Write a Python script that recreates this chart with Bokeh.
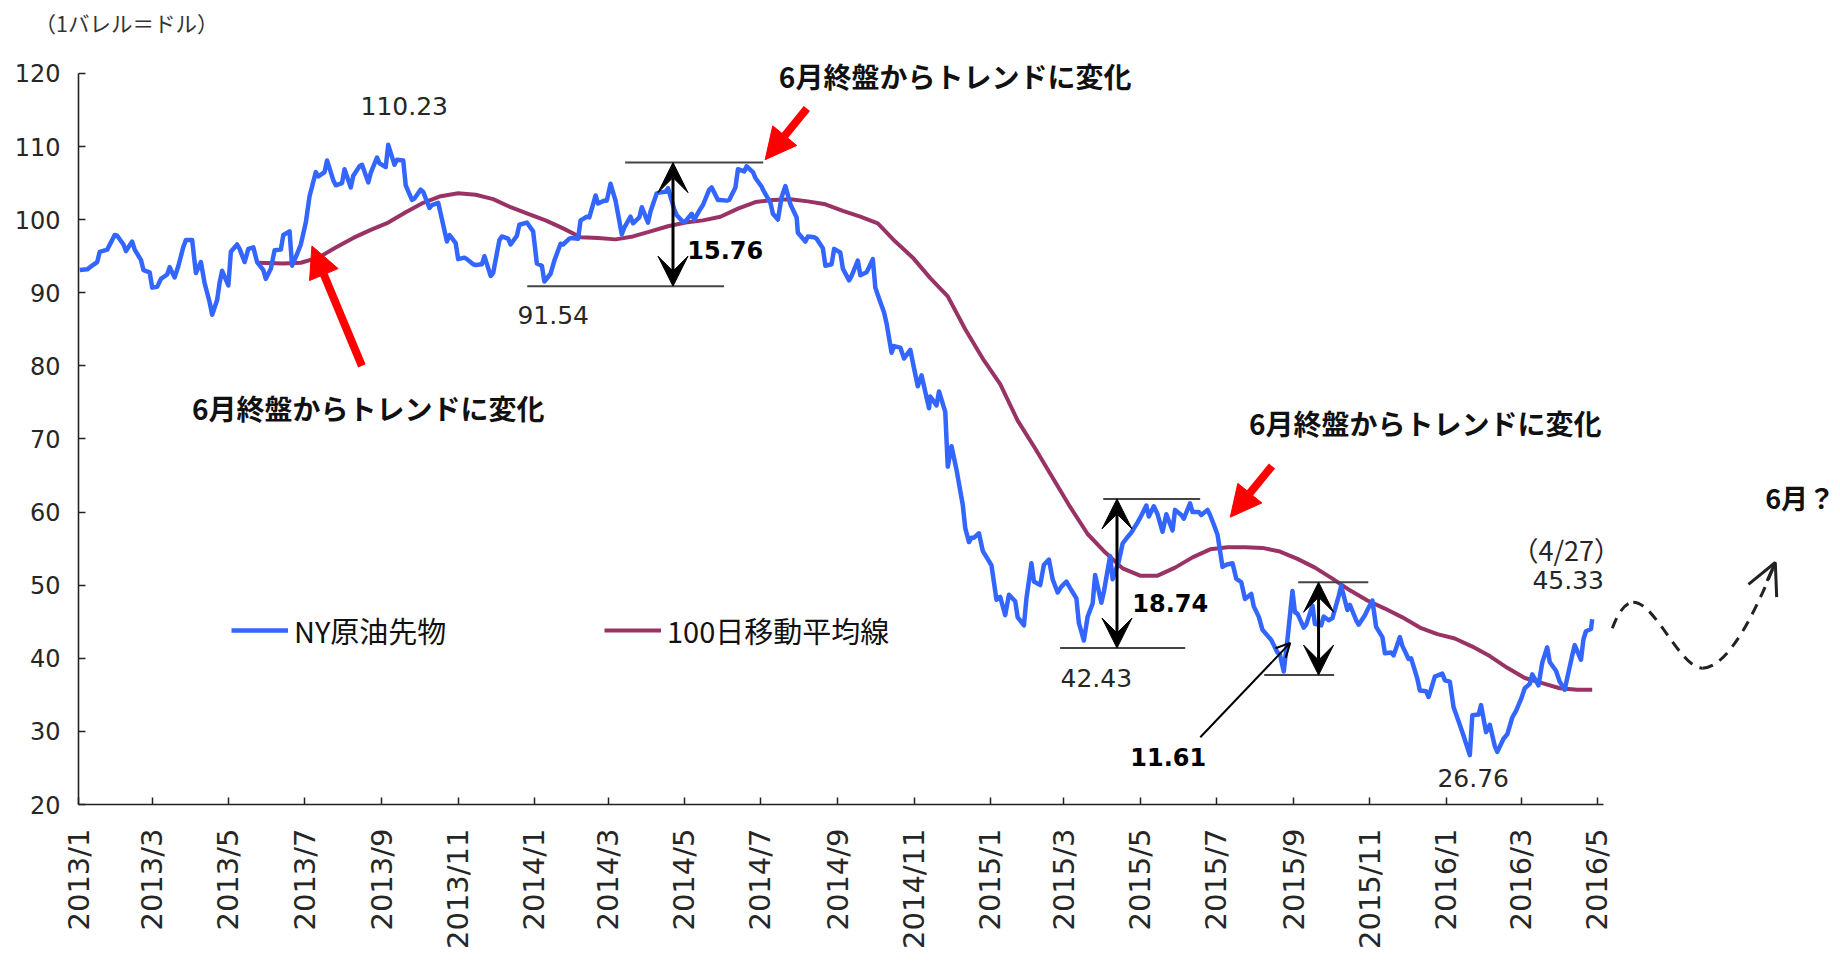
import math
import pandas as pd
from bokeh.plotting import figure
from bokeh.models import (Range1d, FixedTicker, Arrow, NormalHead, VeeHead, OpenHead,
                          Legend, LegendItem, ColumnDataSource)
from bokeh.core.properties import value
from bokeh.embed import file_html
from bokeh.resources import INLINE

# ---------------- data ----------------
wti_dates = [
    "2013-01-02", "2013-01-08", "2013-01-11", "2013-01-16", "2013-01-18", "2013-01-24", "2013-01-30",
    "2013-02-01", "2013-02-06", "2013-02-08", "2013-02-13", "2013-02-15", "2013-02-20", "2013-02-22",
    "2013-02-27", "2013-03-01", "2013-03-05", "2013-03-08", "2013-03-13", "2013-03-15", "2013-03-19",
    "2013-03-22", "2013-03-26", "2013-03-28", "2013-04-02", "2013-04-05", "2013-04-09", "2013-04-12",
    "2013-04-16", "2013-04-18", "2013-04-22", "2013-04-24", "2013-04-26", "2013-05-01", "2013-05-03",
    "2013-05-08", "2013-05-10", "2013-05-14", "2013-05-17", "2013-05-21", "2013-05-24", "2013-05-29",
    "2013-05-31", "2013-06-04", "2013-06-07", "2013-06-12", "2013-06-14", "2013-06-19", "2013-06-21",
    "2013-06-25", "2013-06-28", "2013-07-02", "2013-07-05", "2013-07-10", "2013-07-12", "2013-07-17",
    "2013-07-19", "2013-07-24", "2013-07-26", "2013-07-31", "2013-08-02", "2013-08-07", "2013-08-09",
    "2013-08-14", "2013-08-16", "2013-08-21", "2013-08-23", "2013-08-28", "2013-08-30", "2013-09-04",
    "2013-09-06", "2013-09-11", "2013-09-13", "2013-09-18", "2013-09-20", "2013-09-25", "2013-09-27",
    "2013-10-02", "2013-10-04", "2013-10-09", "2013-10-11", "2013-10-16", "2013-10-18", "2013-10-23",
    "2013-10-25", "2013-10-30", "2013-11-01", "2013-11-06", "2013-11-08", "2013-11-13", "2013-11-15",
    "2013-11-20", "2013-11-22", "2013-11-27", "2013-11-29", "2013-12-04", "2013-12-06", "2013-12-11",
    "2013-12-13", "2013-12-18", "2013-12-20", "2013-12-26", "2013-12-31",
    "2014-01-03", "2014-01-07", "2014-01-09", "2014-01-14", "2014-01-17", "2014-01-22", "2014-01-24",
    "2014-01-29", "2014-01-31", "2014-02-05", "2014-02-07", "2014-02-12", "2014-02-14", "2014-02-19",
    "2014-02-21", "2014-02-26", "2014-02-28", "2014-03-03", "2014-03-07", "2014-03-12", "2014-03-14",
    "2014-03-19", "2014-03-21", "2014-03-26", "2014-03-28", "2014-04-02", "2014-04-04", "2014-04-09",
    "2014-04-11", "2014-04-16", "2014-04-18", "2014-04-23", "2014-04-25", "2014-04-30", "2014-05-02",
    "2014-05-07", "2014-05-09", "2014-05-14", "2014-05-16", "2014-05-21", "2014-05-23", "2014-05-28",
    "2014-05-30", "2014-06-04", "2014-06-06", "2014-06-11", "2014-06-13", "2014-06-18", "2014-06-20",
    "2014-06-25", "2014-06-27", "2014-07-02", "2014-07-03", "2014-07-09", "2014-07-11", "2014-07-15",
    "2014-07-18", "2014-07-21", "2014-07-25", "2014-07-30", "2014-07-31", "2014-08-06", "2014-08-08",
    "2014-08-13", "2014-08-15", "2014-08-20", "2014-08-22", "2014-08-27", "2014-08-29", "2014-09-03",
    "2014-09-05", "2014-09-10", "2014-09-12", "2014-09-17", "2014-09-19", "2014-09-24", "2014-09-26",
    "2014-09-29", "2014-10-01", "2014-10-03", "2014-10-08", "2014-10-10", "2014-10-14", "2014-10-16",
    "2014-10-21", "2014-10-24", "2014-10-29", "2014-10-31", "2014-11-04", "2014-11-07", "2014-11-13",
    "2014-11-14", "2014-11-19", "2014-11-21", "2014-11-26", "2014-11-28", "2014-12-01", "2014-12-05",
    "2014-12-10", "2014-12-12", "2014-12-15", "2014-12-17", "2014-12-19", "2014-12-23", "2014-12-26",
    "2014-12-31",
    "2015-01-02", "2015-01-06", "2015-01-09", "2015-01-13", "2015-01-16", "2015-01-21", "2015-01-23",
    "2015-01-28", "2015-01-30", "2015-02-03", "2015-02-05", "2015-02-10", "2015-02-13", "2015-02-17",
    "2015-02-20", "2015-02-24", "2015-02-27", "2015-03-03", "2015-03-06", "2015-03-11", "2015-03-13",
    "2015-03-17", "2015-03-20", "2015-03-24", "2015-03-26", "2015-03-31", "2015-04-02", "2015-04-07",
    "2015-04-09", "2015-04-14", "2015-04-17", "2015-04-21", "2015-04-24", "2015-04-29", "2015-05-01",
    "2015-05-06", "2015-05-08", "2015-05-12", "2015-05-15", "2015-05-19", "2015-05-22", "2015-05-27",
    "2015-05-29", "2015-06-03", "2015-06-05", "2015-06-10", "2015-06-12", "2015-06-17", "2015-06-19",
    "2015-06-24", "2015-06-26", "2015-06-29", "2015-07-02", "2015-07-06", "2015-07-09", "2015-07-14",
    "2015-07-17", "2015-07-21", "2015-07-24", "2015-07-29", "2015-07-31", "2015-08-04", "2015-08-07",
    "2015-08-11", "2015-08-14", "2015-08-19", "2015-08-21", "2015-08-24", "2015-08-27", "2015-08-31",
    "2015-09-02", "2015-09-04", "2015-09-09", "2015-09-11", "2015-09-16", "2015-09-18", "2015-09-23",
    "2015-09-25", "2015-09-29", "2015-10-02", "2015-10-07", "2015-10-09", "2015-10-14", "2015-10-16",
    "2015-10-21", "2015-10-23", "2015-10-28", "2015-10-30", "2015-11-03", "2015-11-06", "2015-11-11",
    "2015-11-13", "2015-11-18", "2015-11-20", "2015-11-25", "2015-11-27", "2015-12-02", "2015-12-04",
    "2015-12-09", "2015-12-11", "2015-12-16", "2015-12-18", "2015-12-23", "2015-12-29", "2015-12-31",
    "2016-01-04", "2016-01-07", "2016-01-11", "2016-01-13", "2016-01-15", "2016-01-20", "2016-01-22",
    "2016-01-27", "2016-01-29", "2016-02-02", "2016-02-05", "2016-02-09", "2016-02-11", "2016-02-16",
    "2016-02-19", "2016-02-23", "2016-02-26", "2016-03-01", "2016-03-04", "2016-03-08", "2016-03-10",
    "2016-03-15", "2016-03-18", "2016-03-22", "2016-03-24", "2016-03-29", "2016-04-01", "2016-04-05",
    "2016-04-07", "2016-04-11", "2016-04-13", "2016-04-18", "2016-04-20", "2016-04-22", "2016-04-26",
    "2016-04-27",
]
wti_values = [
    93.1, 93.2, 93.6, 94.2, 95.6, 95.9, 97.9,
    97.8, 96.6, 95.7, 97.0, 95.9, 94.5, 93.1,
    92.8, 90.7, 90.8, 91.9, 92.5, 93.5, 92.1,
    93.7, 96.3, 97.2, 97.2, 92.7, 94.2, 91.3,
    88.7, 87.0, 89.0, 91.4, 93.0, 91.0, 95.6,
    96.6, 96.0, 94.2, 96.0, 96.2, 94.2, 93.1,
    91.9, 93.3, 95.8, 95.9, 97.9, 98.4, 93.7,
    95.3, 96.6, 99.6, 103.2, 106.5, 105.9, 106.5,
    108.1, 105.4, 104.7, 105.0, 106.9, 104.4, 106.0,
    107.3, 107.5, 105.1, 106.4, 108.5, 107.7, 107.2,
    110.23, 107.5, 108.2, 108.1, 104.7, 102.7, 102.9,
    104.1, 103.8, 101.6, 102.0, 102.3, 100.8, 97.0,
    97.9, 96.8, 94.6, 94.8, 94.6, 93.9, 93.8,
    93.9, 95.0, 92.3, 92.7, 97.2, 97.7, 97.4,
    96.6, 97.8, 99.3, 99.6, 98.4,
    94.0, 93.7, 91.54, 92.6, 94.4, 96.7, 96.6,
    97.4, 97.5, 97.4, 99.9, 100.4, 100.3, 103.3,
    102.2, 102.6, 102.6, 104.9, 102.6, 98.0, 98.9,
    100.4, 99.5, 100.3, 101.7, 99.6, 101.1, 103.6,
    103.7, 103.8, 104.3, 101.4, 100.6, 99.7, 99.8,
    100.8, 100.0, 101.5, 102.0, 104.1, 104.4, 102.7,
    102.7, 102.6, 102.7, 104.4, 106.9, 106.6, 107.3,
    106.5, 105.7, 104.5, 104.1, 102.3, 100.8, 100.0,
    103.1, 104.6, 102.1, 100.3, 98.2, 97.0, 97.7,
    97.6, 97.4, 96.1, 93.7, 93.9, 96.0, 95.5,
    93.3, 91.7, 92.3, 94.4, 92.4, 92.8, 93.5,
    94.6, 90.7, 89.7, 87.3, 85.8, 81.8, 82.7,
    82.5, 81.0, 82.2, 80.5, 77.2, 78.7, 74.2,
    75.8, 74.6, 76.5, 73.7, 66.2, 69.0, 65.8,
    61.0, 57.8, 55.9, 56.5, 56.5, 57.1, 54.7,
    53.3,
    52.7, 48.0, 48.4, 45.9, 48.7, 47.8, 45.6,
    44.5, 48.2, 53.0, 50.5, 50.0, 52.8, 53.5,
    50.8, 49.0, 49.8, 50.5, 49.6, 48.2, 44.8,
    42.43, 45.7, 47.5, 51.4, 47.6, 49.1, 54.0,
    50.8, 53.3, 55.7, 56.6, 57.2, 58.6, 59.2,
    60.9, 59.4, 60.8, 59.7, 57.3, 59.7, 57.5,
    60.3, 59.6, 59.1, 61.2, 60.0, 60.0, 59.6,
    60.3, 59.6, 58.3, 56.9, 52.5, 52.8, 53.0,
    50.9, 50.4, 48.1, 48.8, 47.1, 45.7, 43.9,
    43.1, 42.5, 40.8, 40.5, 38.2, 42.6, 49.2,
    46.3, 46.1, 44.2, 44.6, 47.2, 44.7, 44.5,
    45.7, 45.2, 45.5, 48.5, 49.9, 46.6, 47.3,
    45.2, 44.6, 45.9, 46.6, 47.9, 44.3, 42.9,
    40.7, 40.8, 40.4, 42.9, 41.7, 39.9, 40.0,
    37.2, 35.6, 35.5, 34.7, 37.5, 37.9, 37.0,
    36.8, 33.3, 31.4, 30.4, 29.4, 26.76, 32.2,
    32.3, 33.6, 29.9, 30.9, 28.0, 27.2, 29.0,
    29.6, 31.9, 32.8, 34.4, 35.9, 36.5, 37.8,
    36.3, 39.4, 41.5, 39.5, 38.3, 36.8, 35.7,
    37.3, 40.4, 41.8, 39.8, 42.6, 43.7, 44.0,
    45.33,
]

ma_dates = [
    "2013-05-24", "2013-06-14", "2013-06-28", "2013-07-12", "2013-07-26", "2013-08-09", "2013-08-23",
    "2013-09-06", "2013-09-20", "2013-10-04", "2013-10-18", "2013-11-01", "2013-11-15", "2013-11-29",
    "2013-12-13", "2013-12-27", "2014-01-10", "2014-01-24", "2014-02-07", "2014-02-21", "2014-03-07",
    "2014-03-21", "2014-04-04", "2014-04-18", "2014-05-02", "2014-05-16", "2014-05-30", "2014-06-13",
    "2014-06-27", "2014-07-11", "2014-07-25", "2014-08-08", "2014-08-22", "2014-09-05", "2014-09-19",
    "2014-10-03", "2014-10-17", "2014-10-31", "2014-11-14", "2014-11-28", "2014-12-12", "2014-12-26",
    "2015-01-09", "2015-01-23", "2015-02-06", "2015-02-20", "2015-03-06", "2015-03-20", "2015-04-03",
    "2015-04-17", "2015-05-01", "2015-05-15", "2015-05-29", "2015-06-12", "2015-06-26", "2015-07-10",
    "2015-07-24", "2015-08-07", "2015-08-21", "2015-09-04", "2015-09-18", "2015-10-02", "2015-10-16",
    "2015-10-30", "2015-11-13", "2015-11-27", "2015-12-11", "2015-12-25", "2016-01-08", "2016-01-22",
    "2016-02-05", "2016-02-19", "2016-03-04", "2016-03-18", "2016-04-01", "2016-04-15", "2016-04-27",
]
ma_values = [
    94.1, 94.0, 94.1, 94.8, 96.2, 97.5, 98.6,
    99.6, 101.0, 102.3, 103.2, 103.6, 103.4, 102.8,
    101.7, 100.8, 99.9, 98.8, 97.6, 97.5, 97.3,
    97.7, 98.4, 99.1, 99.6, 99.9, 100.4, 101.5,
    102.4, 102.7, 102.8, 102.5, 102.1, 101.2, 100.4,
    99.5, 97.0, 94.8, 92.0, 89.5, 85.0, 81.0,
    77.5, 72.5, 68.7, 64.7, 60.7, 57.0, 54.5,
    52.3, 51.3, 51.3, 52.4, 53.8, 54.9, 55.2,
    55.2, 55.1, 54.6, 53.6, 52.4, 50.9, 49.3,
    47.9, 46.8, 45.6, 44.2, 43.3, 42.7, 41.6,
    40.3, 38.7, 37.3, 36.6, 35.9, 35.7, 35.7,
]

tick_dates = ["2013-01-01", "2013-03-01", "2013-05-01", "2013-07-01", "2013-09-01", "2013-11-01",
              "2014-01-01", "2014-03-01", "2014-05-01", "2014-07-01", "2014-09-01", "2014-11-01",
              "2015-01-01", "2015-03-01", "2015-05-01", "2015-07-01", "2015-09-01", "2015-11-01",
              "2016-01-01", "2016-03-01", "2016-05-01"]
tick_labels = ["2013/1", "2013/3", "2013/5", "2013/7", "2013/9", "2013/11",
               "2014/1", "2014/3", "2014/5", "2014/7", "2014/9", "2014/11",
               "2015/1", "2015/3", "2015/5", "2015/7", "2015/9", "2015/11",
               "2016/1", "2016/3", "2016/5"]
y_ticks = [20, 30, 40, 50, 60, 70, 80, 90, 100, 110, 120]

series_names = ["NY原油先物", "100日移動平均線"]
unit_label = "（1バレル＝ドル）"

T0 = pd.Timestamp("2013-01-01")


def to_days(ds):
    return [float((pd.Timestamp(d) - T0).days) for d in ds]


wti_x = to_days(wti_dates)
ma_x = to_days(ma_dates)
tick_x = to_days(tick_dates)

BLUE = "#3366FF"
MAROON = "#993366"
NUM_FONT = "DejaVu Sans"
JP_FONT = "Noto Sans CJK JP"

p = figure(width=1838, height=958, title=unit_label,
           x_range=Range1d(0, 1409.2), y_range=Range1d(20, 124.23),
           output_backend="svg", toolbar_location=None,
           min_border_left=78, min_border_right=0, min_border_top=40, min_border_bottom=154)
p.outline_line_color = None
p.grid.visible = False
p.background_fill_color = "white"
p.border_fill_color = "white"

p.title.align = "left"
p.title.offset = -44
p.title.standoff = 9
p.title.text_font = JP_FONT
p.title.text_font_size = "21.5px"
p.title.text_font_style = "normal"
p.title.text_color = "#333333"

# axes
xa = p.xaxis[0]
xa.ticker = FixedTicker(ticks=tick_x)
xa.major_label_overrides = {t: lab for t, lab in zip(tick_x, tick_labels)}
xa.bounds = (0, 1221)
xa.major_label_orientation = math.pi / 2
xa.major_tick_in = 7
xa.major_tick_out = 0
xa.minor_tick_line_color = None
xa.major_label_standoff = 24
xa.major_label_text_font = NUM_FONT
xa.major_label_text_font_size = "29px"
xa.major_label_text_color = "#262626"
xa.axis_line_width = 1.6
xa.axis_line_color = "#222222"
xa.major_tick_line_width = 1.5
xa.major_tick_line_color = "#222222"

ya = p.yaxis[0]
ya.ticker = FixedTicker(ticks=y_ticks)
ya.bounds = (20, 120)
ya.major_tick_in = 7
ya.major_tick_out = 0
ya.minor_tick_line_color = None
ya.major_label_standoff = 18
ya.major_label_text_font = NUM_FONT
ya.major_label_text_font_size = "24px"
ya.major_label_text_color = "#262626"
ya.axis_line_width = 1.6
ya.axis_line_color = "#222222"
ya.major_tick_line_width = 1.5
ya.major_tick_line_color = "#222222"

# series
r_ma = p.line(ma_x, ma_values, line_color=MAROON, line_width=4)
r_wti = p.line(wti_x, wti_values, line_color=BLUE, line_width=4.5, line_join="round")

# legends
for item_label, rend, loc in [(series_names[0], r_wti, (153, 153)), (series_names[1], r_ma, (526, 153))]:
    lg = Legend(items=[LegendItem(label=item_label, renderers=[rend])], location=loc,
                orientation="horizontal", glyph_width=57, glyph_height=32, label_height=32,
                label_standoff=6, padding=0, margin=0, border_line_color=None,
                background_fill_alpha=0, label_text_font=JP_FONT, label_text_font_size="29px",
                label_text_color="#111111")
    p.add_layout(lg)

# bracket lines (thin gray)
seg_x0 = [437.7, 359.3, 820.5, 786.0, 976.6, 949.4]
seg_x1 = [548.2, 516.9, 898.1, 886.1, 1032.7, 1005.4]
seg_y = [107.8, 90.9, 61.8, 41.4, 50.4, 37.7]
p.segment(seg_x0, seg_y, seg_x1, seg_y, line_color="#444444", line_width=2)

# double-headed black arrows
for ax, ylo, yhi in [(476.0, 90.9, 107.8), (831.5, 41.4, 61.8), (992.9, 37.7, 50.4)]:
    p.add_layout(Arrow(x_start=ax, y_start=ylo, x_end=ax, y_end=yhi, line_width=3, line_color="black",
                       start=VeeHead(size=30, fill_color="black", line_color="black"),
                       end=VeeHead(size=30, fill_color="black", line_color="black")))

# thin pointer arrow to 11.61
p.add_layout(Arrow(x_start=898.2, y_start=29.2, x_end=970.2, y_end=42.1, line_width=2, line_color="black",
                   end=OpenHead(size=14, line_width=2, line_color="black")))

# red arrows
for xs, ys, xe, ye in [(226.9, 80.0, 186.9, 96.4), (583.2, 115.2, 549.8, 108.2), (955.6, 66.3, 922.2, 59.3)]:
    p.add_layout(Arrow(x_start=xs, y_start=ys, x_end=xe, y_end=ye, line_width=8, line_color="#FF0000",
                       end=NormalHead(size=31, fill_color="#FF0000", line_color="#FF0000", line_width=1)))

# dashed outlook curve
p.bezier(x0=[1228.1, 1244.9, 1300.2], y0=[44.1, 47.65, 38.65],
         x1=[1244.9, 1300.2, 1358.6], y1=[47.65, 38.65, 53.1],
         cx0=[1232.9, 1262.5, 1322.5], cy0=[46.3, 47.65, 38.65],
         cx1=[1238.5, 1282.4, 1346.5], cy1=[47.65, 38.65, 47.9],
         line_color="#222222", line_width=3, line_dash="11 8")
p.add_layout(Arrow(x_start=1352.0, y_start=50.6, x_end=1358.6, y_end=53.1, line_width=3, line_color="#222222",
                   end=OpenHead(size=31, line_width=3, line_color="#222222")))

# number labels (regular)
num_src = ColumnDataSource(dict(
    x=[260.8, 380.1, 814.9, 1116.7, 1192.8],
    y=[115.5, 86.9, 37.3, 23.6, 50.7],
    t=["110.23", "91.54", "42.43", "26.76", "45.33"]))
p.text("x", "y", text="t", source=num_src, text_font=value(NUM_FONT), text_font_size=value("25px"),
       text_align="center", text_baseline="middle", text_color="#262626")

# number labels (bold)
bold_src = ColumnDataSource(dict(
    x=[517.8, 874.1, 872.5],
    y=[95.8, 47.5, 26.5],
    t=["15.76", "18.74", "11.61"]))
p.text("x", "y", text="t", source=bold_src, text_font=value(NUM_FONT), text_font_size=value("24px"),
       text_font_style="bold", text_align="center", text_baseline="middle", text_color="black")

# Japanese annotations
jp_src = ColumnDataSource(dict(
    x=[701.9, 232.0, 1078.3],
    y=[119.7, 74.3, 72.2],
    t=["6月終盤からトレンドに変化"] * 3))
p.text("x", "y", text="t", source=jp_src, text_font=value(JP_FONT), text_font_size=value("28px"),
       text_font_style="bold", text_align="center", text_baseline="middle", text_color="#111111")

p.text([1378.5], [62.0], text=["6月？"], text_font=value(JP_FONT), text_font_size=value("27px"),
       text_font_style="bold", text_align="center", text_baseline="middle", text_color="#111111")
p.text([1191.2], [54.9], text=["（4/27）"], text_font=value(JP_FONT), text_font_size=value("27px"),
       text_align="center", text_baseline="middle", text_color="#262626")

open("out.html", "w").write(file_html(p, INLINE))
